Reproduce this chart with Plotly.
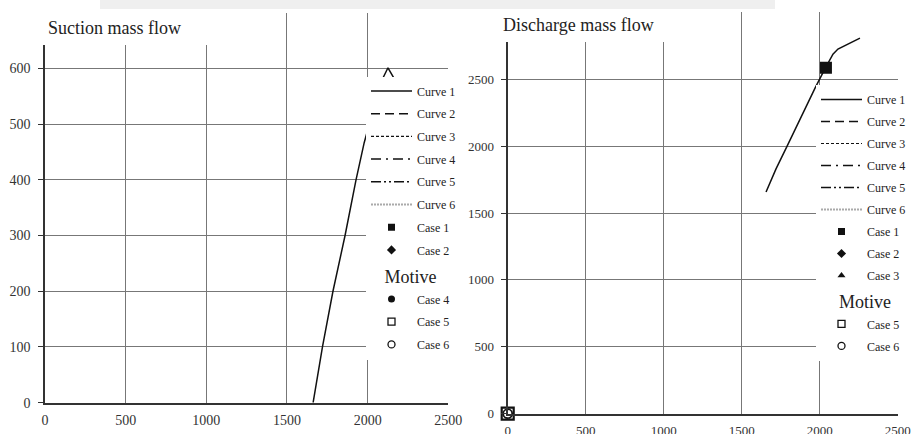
import plotly.graph_objects as go

# ---------------- data ----------------
suction_curve1_x = [1662, 1720, 1785, 1860, 1928, 1979, 2020, 2060, 2089, 2126, 2170, 2200]
suction_curve1_y = [0, 100, 200, 300, 400, 467, 510, 555, 579, 601, 579, 555]

discharge_curve1_x = [1656, 1720, 1791, 1880, 1970, 2030, 2060, 2085, 2117, 2258]
discharge_curve1_y = [1657, 1830, 2000, 2220, 2434, 2570, 2640, 2688, 2726, 2808]

discharge_case1_x = [2040]
discharge_case1_y = [2586]
discharge_case5_x = [0]
discharge_case5_y = [0]
discharge_case6_x = [0]
discharge_case6_y = [0]

# series shown only in the legends (no points in the charts)
no_points = [None]

curve_names = ["Curve 1", "Curve 2", "Curve 3", "Curve 4", "Curve 5", "Curve 6"]
suction_case_names = ["Case 1", "Case 2", "Case 4", "Case 5", "Case 6"]
discharge_case_names = ["Case 1", "Case 2", "Case 3", "Case 5", "Case 6"]
group_title = "Motive"

suction_yticks = [0, 100, 200, 300, 400, 500, 600, 700]
suction_ylabels = ["0", "100", "200", "300", "400", "500", "600", ""]
discharge_yticks = [0, 500, 1000, 1500, 2000, 2500, 3000]
discharge_ylabels = ["0", "500", "1000", "1500", "2000", "2500", ""]
xticks = [0, 500, 1000, 1500, 2000, 2500]
xlabels = ["0", "500", "1000", "1500", "2000", "2500"]

# ---------------- styles ----------------
SERIF = "Liberation Serif"
curve_styles = {
    "Curve 1": dict(color="#111", width=1.5, dash="solid"),
    "Curve 2": dict(color="#111", width=1.5, dash="9px,5px"),
    "Curve 3": dict(color="#111", width=1.2, dash="3px,2px"),
    "Curve 4": dict(color="#111", width=1.5, dash="10px,5px,2px,5px"),
    "Curve 5": dict(color="#111", width=1.5, dash="10px,3px,2px,3px,2px,3px"),
    "Curve 6": dict(color="#aaa", width=2, dash="2px,1px"),
}
case_markers = {
    "Case 1": dict(symbol="square", size=7, color="#111"),
    "Case 2": dict(symbol="diamond", size=7, color="#111"),
    "Case 3": dict(symbol="triangle-up", size=7, color="#111"),
    "Case 4": dict(symbol="circle", size=7, color="#111"),
    "Case 5": dict(symbol="square-open", size=7, color="#111", line=dict(width=1.3, color="#111")),
    "Case 6": dict(symbol="circle-open", size=7, color="#111", line=dict(width=1.3, color="#111")),
}

fig = go.Figure()

def add_panel(xa, ya, legend, curve_data, case_names, tag, indent):
    for name in curve_names:
        xs, ys = curve_data.get(name, (no_points, no_points))
        fig.add_trace(go.Scatter(
            x=xs, y=ys, mode="lines", name=name, line=curve_styles[name],
            xaxis=xa, yaxis=ya, legend=legend, legendgroup=tag + name,
            hoverinfo="skip"))
    for name in case_names:
        extra = {}
        if name == "Case 4" or (name == "Case 5" and "Case 4" not in case_names):
            extra = dict(legendgrouptitle=dict(text="\u00a0" * indent + group_title,
                                               font=dict(family=SERIF, size=18, color="#222")))
        fig.add_trace(go.Scatter(
            x=no_points, y=no_points, mode="markers", name=name, marker=case_markers[name],
            xaxis=xa, yaxis=ya, legend=legend, legendgroup=tag + name,
            hoverinfo="skip", **extra))

add_panel("x", "y", "legend", {"Curve 1": (suction_curve1_x, suction_curve1_y)}, suction_case_names, "s", 3)
add_panel("x2", "y2", "legend2", {"Curve 1": (discharge_curve1_x, discharge_curve1_y)}, discharge_case_names, "d", 4)

# plotted case markers on the discharge chart
fig.add_trace(go.Scatter(x=discharge_case1_x, y=discharge_case1_y, mode="markers", showlegend=False,
                         marker=dict(symbol="square", size=12, color="#111"), xaxis="x2", yaxis="y2", hoverinfo="skip"))
fig.add_trace(go.Scatter(x=discharge_case5_x, y=discharge_case5_y, mode="markers", showlegend=False,
                         marker=dict(symbol="square-open", size=12, color="#111", line=dict(width=2.2, color="#111")),
                         xaxis="x2", yaxis="y2", hoverinfo="skip", cliponaxis=False))
fig.add_trace(go.Scatter(x=discharge_case6_x, y=discharge_case6_y, mode="markers", showlegend=False,
                         marker=dict(symbol="circle-open", size=9, color="#111", line=dict(width=1.8, color="#111")),
                         xaxis="x2", yaxis="y2", hoverinfo="skip", cliponaxis=False))

W, H = 913, 434
def px(x):
    return x / W
def py(y):
    return 1 - y / H

grid = "#777777"
tickfont_l = dict(family=SERIF, size=14, color="#333")
tickfont_r = dict(family=SERIF, size=13, color="#333")

common_x = dict(range=[0, 2500], tickvals=xticks, ticktext=xlabels, showgrid=True, gridcolor=grid, gridwidth=1,
                zeroline=False, showline=True, linecolor="#333", ticks="", fixedrange=True)
common_y = dict(showgrid=True, gridcolor=grid, gridwidth=1, zeroline=False, showline=True,
                linecolor="#333", ticks="outside", ticklen=5, tickcolor="#333", fixedrange=True)

fig.update_layout(
    width=W, height=H,
    margin=dict(l=0, r=0, t=0, b=0, autoexpand=False),
    paper_bgcolor="white", plot_bgcolor="white",
    showlegend=True,
    xaxis=dict(domain=[px(45), px(448.3)], anchor="y", tickfont=tickfont_l, linewidth=1.5,
               ticklabelstandoff=4, **common_x),
    yaxis=dict(domain=[py(402.7), py(12.6)], anchor="x", range=[0, 700], tickvals=suction_yticks,
               ticktext=suction_ylabels, tickfont=tickfont_l, linewidth=1.5, ticklabelstandoff=5, **common_y),
    xaxis2=dict(domain=[px(507.7), px(897.7)], anchor="y2", tickfont=tickfont_r, linewidth=2,
                ticklabelstandoff=4, **common_x),
    yaxis2=dict(domain=[py(413.7), py(12.4)], anchor="x2", range=[0, 3000], tickvals=discharge_yticks,
                ticktext=discharge_ylabels, tickfont=tickfont_r, linewidth=2, ticklabelstandoff=4, **common_y),
    legend=dict(x=px(366), y=py(76.5), xanchor="left", yanchor="top", bgcolor="white", borderwidth=0,
                font=dict(family=SERIF, size=12, color="#222"), tracegroupgap=3.7, itemwidth=41,
                traceorder="grouped", itemclick=False, itemdoubleclick=False),
    legend2=dict(x=px(816), y=py(85), xanchor="left", yanchor="top", bgcolor="white", borderwidth=0,
                 font=dict(family=SERIF, size=12, color="#222"), tracegroupgap=3, itemwidth=41,
                 traceorder="grouped", itemclick=False, itemdoubleclick=False),
    shapes=[
        dict(type="rect", xref="paper", yref="paper", x0=px(100), x1=px(775), y0=py(9), y1=py(0),
             fillcolor="#efefef", line=dict(width=0), layer="above"),
        dict(type="rect", xref="paper", yref="paper", x0=px(30), x1=px(218), y0=py(45), y1=py(9),
             fillcolor="white", line=dict(width=0), layer="above"),
        dict(type="rect", xref="paper", yref="paper", x0=px(462), x1=px(685), y0=py(42), y1=py(9),
             fillcolor="white", line=dict(width=0), layer="above"),
    ],
    annotations=[
        dict(text="Suction mass flow", x=px(46), y=py(28), xref="paper", yref="paper", xanchor="left",
             yanchor="middle", showarrow=False, font=dict(family=SERIF, size=18, color="#222")),
        dict(text="Discharge mass flow", x=px(501), y=py(25), xref="paper", yref="paper", xanchor="left",
             yanchor="middle", showarrow=False, font=dict(family=SERIF, size=18, color="#222")),
    ],
)

fig.write_html("out.html", config={"displayModeBar": False})
